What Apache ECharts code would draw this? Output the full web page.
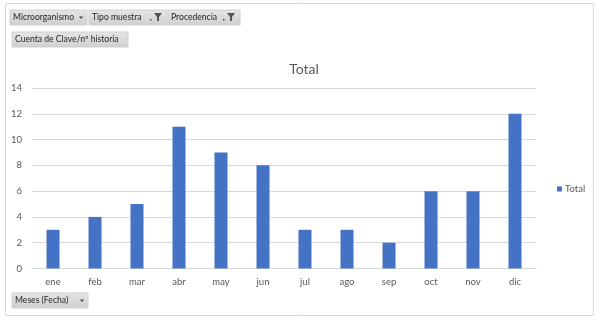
<!DOCTYPE html>
<html><head><meta charset="utf-8">
<script src="https://cdn.jsdelivr.net/npm/echarts@6/dist/echarts.min.js"></script>
<style>html,body{margin:0;padding:0;background:#fff}#c{width:600px;height:320px}</style>
</head><body><div id="c"></div>
<script>
var categories = ['ene','feb','mar','abr','may','jun','jul','ago','sep','oct','nov','dic'];
var totals = [3,4,5,11,9,8,3,3,2,6,6,12];
var yTicks = [0,2,4,6,8,10,12,14];
var seriesName = 'Total';

var FONT = 'Lato, "Open Sans", sans-serif';
var btnFill = new echarts.graphic.LinearGradient(0,0,0,1,[{offset:0,color:'#e6e6e6'},{offset:1,color:'#cfcfcf'}]);
function button(x,y,w,h,label){
  return [
    {type:'rect', shape:{x:x,y:y,width:w,height:h}, style:{fill:btnFill, stroke:'#d0d0d0', lineWidth:1}, z:10},
    {type:'text', x:x+3, y:y+h/2, style:{text:label, font:'8.6px '+FONT, fill:'#262626', verticalAlign:'middle'}, z:11}
  ];
}
function arrow(cx,cy){
  return {type:'polygon', shape:{points:[[cx-2,cy-1],[cx+2,cy-1],[cx,cy+1.5]]}, style:{fill:'#444'}, z:12};
}
function funnel(cx,cy){
  return [
    {type:'polygon', shape:{points:[[cx-4,cy-4],[cx+4,cy-4],[cx+1,cy],[cx+1,cy+4],[cx-1,cy+4],[cx-1,cy]]}, style:{fill:'#555'}, z:12},
    {type:'rect', shape:{x:cx-8,y:cy+2,width:1.5,height:1.5}, style:{fill:'#444'}, z:12}
  ];
}
var graphics = [
  {type:'rect', shape:{x:5.5,y:3.5,width:588,height:312}, style:{fill:'none', stroke:'#d9d9d9', lineWidth:1}, z:1}
];
graphics = graphics.concat(button(10,10,77,15,'Microorganismo'));
graphics.push(arrow(81,17.5));
graphics = graphics.concat(button(89,10,78,15,'Tipo muestra'));
graphics = graphics.concat(funnel(158,17));
graphics = graphics.concat(button(168,10,72,15,'Procedencia'));
graphics = graphics.concat(funnel(231,17));
graphics = graphics.concat(button(12,32,116,15,'Cuenta de Clave/nº historia'));
graphics = graphics.concat(button(12,293,76,15,'Meses (Fecha)'));
graphics.push(arrow(82,300.5));

var chart = echarts.init(document.getElementById('c'), null, {renderer:'canvas'});
chart.setOption({
  animation:false,
  backgroundColor:'#fff',
  title:{text:'Total', left:299, top:57, textAlign:'center',
    textStyle:{fontFamily:FONT, fontSize:14, fontWeight:'normal', color:'#595959'}},
  legend:{data:[seriesName], left:552, top:179, orient:'vertical', icon:'rect', itemWidth:5, itemHeight:5, itemGap:4,
    textStyle:{fontFamily:FONT, fontSize:9.5, color:'#595959', padding:[0,0,0,-2]}},
  grid:{left:32, right:64, top:88, bottom:51.5, containLabel:false},
  xAxis:{type:'category', data:categories,
    axisLine:{show:true, lineStyle:{color:'#d9d9d9'}}, axisTick:{show:false},
    axisLabel:{fontFamily:FONT, fontSize:9.5, color:'#595959', margin:8}},
  yAxis:{type:'value', min:yTicks[0], max:yTicks[yTicks.length-1], interval:2,
    axisLine:{show:false}, axisTick:{show:false},
    splitLine:{lineStyle:{color:'#d9d9d9'}},
    axisLabel:{fontFamily:FONT, fontSize:9.5, color:'#595959', margin:10}},
  series:[{name:seriesName, type:'bar', data:totals, barWidth:13, itemStyle:{color:'#4472C4'}}],
  graphic:graphics
});
</script></body></html>
